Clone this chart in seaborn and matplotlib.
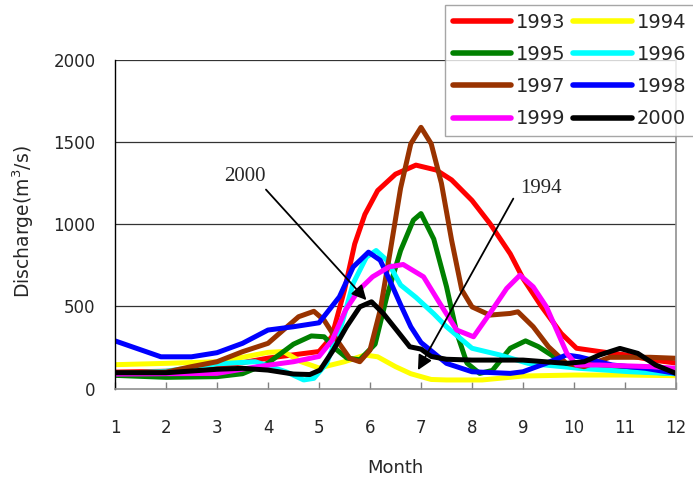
import matplotlib
matplotlib.use("Agg")
import matplotlib.pyplot as plt
from matplotlib.lines import Line2D
import seaborn as sns
import pandas as pd

# ---------------- data ----------------
years = ["1993", "1994", "1995", "1996", "1997", "1998", "1999", "2000"]
colors = ["#FF0000", "#FFFF00", "#008000", "#00FFFF", "#993300", "#0000FF", "#FF00FF", "#000000"]

m1993 = [1, 2, 3, 4, 4.5, 5, 5.25, 5.5, 5.7, 5.9, 6.15, 6.5, 6.9, 7.3, 7.6, 8.0, 8.35, 8.75, 9.0, 9.35, 9.75, 10.05, 10.5, 11, 11.5, 12]
v1993 = [100, 105, 130, 185, 205, 225, 315, 600, 880, 1060, 1205, 1305, 1360, 1330, 1270, 1145, 1005, 820, 670, 505, 335, 245, 225, 205, 175, 155]

m1994 = [1, 2, 3, 3.5, 4, 4.3, 4.65, 5, 5.5, 5.9, 6.15, 6.5, 6.8, 7.2, 7.5, 8.2, 9, 10, 11, 12]
v1994 = [145, 153, 163, 190, 220, 225, 163, 125, 163, 204, 193, 133, 90, 55, 52, 52, 76, 82, 82, 78]

m1995 = [1, 2, 3, 3.5, 4, 4.5, 4.85, 5.1, 5.35, 5.55, 5.8, 6.1, 6.33, 6.6, 6.85, 7.0, 7.25, 7.5, 7.7, 7.9, 8.15, 8.4, 8.75, 9.05, 9.3, 9.6, 9.85, 10.1, 11, 12]
v1995 = [80, 68, 72, 90, 155, 270, 320, 315, 235, 185, 175, 270, 560, 840, 1025, 1065, 910, 620, 340, 155, 92, 110, 245, 290, 255, 195, 145, 130, 110, 90]

m1996 = [1, 2, 3, 3.75, 4.35, 4.7, 4.9, 5.15, 5.45, 5.67, 5.93, 6.12, 6.33, 6.6, 6.9, 7.25, 7.5, 8.0, 8.55, 9.1, 10.1, 11.1, 12]
v1996 = [90, 105, 150, 163, 102, 52, 62, 153, 396, 640, 800, 840, 781, 630, 555, 455, 376, 245, 204, 153, 123, 102, 90]

m1997 = [1, 2, 2.5, 3, 3.5, 4, 4.3, 4.6, 4.9, 5.1, 5.35, 5.6, 5.8, 6.0, 6.2, 6.4, 6.6, 6.8, 7.0, 7.2, 7.4, 7.6, 7.8, 8.0, 8.35, 8.75, 8.9, 9.2, 9.5, 9.85, 10.2, 10.7, 11.5, 12]
v1997 = [95, 100, 133, 163, 224, 275, 356, 437, 470, 416, 295, 184, 163, 234, 477, 842, 1220, 1490, 1590, 1490, 1250, 903, 600, 497, 447, 457, 467, 376, 254, 153, 133, 190, 190, 184]

m1998 = [1, 1.9, 2.5, 3, 3.5, 4, 4.5, 5, 5.4, 5.67, 5.97, 6.2, 6.4, 6.6, 6.8, 7.0, 7.5, 8.0, 8.75, 9.0, 9.45, 9.85, 10.1, 10.75, 11.4, 12]
v1998 = [290, 193, 193, 218, 275, 356, 376, 400, 558, 740, 830, 781, 650, 510, 376, 280, 153, 102, 92, 102, 153, 204, 193, 143, 123, 92]

m1999 = [1, 2, 3, 3.8, 4.5, 5.0, 5.26, 5.52, 5.78, 6.05, 6.37, 6.65, 7.05, 7.37, 7.7, 8.03, 8.35, 8.68, 8.94, 9.2, 9.46, 9.66, 9.86, 10.05, 10.5, 11.5, 12]
v1999 = [88, 90, 92, 133, 163, 195, 295, 477, 599, 680, 740, 755, 680, 518, 356, 315, 457, 609, 690, 619, 497, 356, 214, 143, 143, 133, 123]

m2000 = [1, 2, 3, 3.5, 4, 4.5, 4.82, 5.02, 5.28, 5.54, 5.8, 6.03, 6.26, 6.52, 6.78, 7.0, 7.2, 7.5, 8, 9, 9.85, 10.2, 10.5, 10.9, 11.25, 11.6, 12]
v2000 = [96, 96, 117, 123, 112, 88, 85, 112, 234, 376, 497, 528, 457, 356, 254, 240, 195, 178, 173, 173, 153, 163, 204, 244, 214, 143, 92]

month_ticks = list(range(1, 13))
y_ticks = [0, 500, 1000, 1500, 2000]

# annotations: (label, text position, arrow start, arrow tip)
ann_labels = ["2000", "1994"]
ann_text_xy = [(3.55, 1290), (9.35, 1215)]
ann_start_xy = [(3.96, 1211), (8.81, 1156)]
ann_tip_xy = [(5.93, 538), (6.94, 112)]

# ---------------- build table ----------------
series_m = [m1993, m1994, m1995, m1996, m1997, m1998, m1999, m2000]
series_v = [v1993, v1994, v1995, v1996, v1997, v1998, v1999, v2000]
frames = []
for y, ms, vs in zip(years, series_m, series_v):
    frames.append(pd.DataFrame({"Month": ms, "Discharge": vs, "Year": y}))
df = pd.concat(frames, ignore_index=True)

# ---------------- plot ----------------
sns.set_style("white")
plt.rcParams["font.family"] = ["DejaVu Sans"]

fig = plt.figure(figsize=(6.93, 4.86), dpi=100)
ax = fig.add_axes([115 / 693, 1 - 388.5 / 486, (676 - 115) / 693, (388.5 - 60) / 486])

sns.lineplot(data=df, x="Month", y="Discharge", hue="Year", hue_order=years,
             palette=dict(zip(years, colors)), estimator=None, sort=True,
             linewidth=3.6, ax=ax, legend=False,
             solid_joinstyle="round", solid_capstyle="round")

ax.set_xlim(1, 12)
ax.set_ylim(0, 2000)
ax.set_xticks(month_ticks)
ax.set_xticklabels([str(t) for t in month_ticks])
ax.set_yticks(y_ticks)
ax.set_yticklabels([str(t) for t in y_ticks])
ax.tick_params(axis="x", direction="in", length=5, width=1, color="#808080",
               pad=22, labelsize=12, bottom=True)
ax.tick_params(axis="y", length=0, pad=14, labelsize=12)

for yv in [500, 1000, 1500, 2000]:
    ax.axhline(yv, color="#333333", lw=0.9, zorder=0.5)

ax.spines["left"].set_color("black")
ax.spines["left"].set_linewidth(1.0)
for side in ["bottom", "right"]:
    ax.spines[side].set_color("#909090")
    ax.spines[side].set_linewidth(1.2)
ax.spines["top"].set_visible(False)

ax.set_xlabel("")
ax.set_ylabel("")
fig.text(395 / 693, 1 - 468 / 486, "Month", ha="center", va="center", fontsize=13)
fig.text(23 / 693, 1 - 222 / 486, "Discharge(m$^3$/s)", ha="center", va="center",
         rotation=90, fontsize=13.5)

for lab, txy, sxy, pxy in zip(ann_labels, ann_text_xy, ann_start_xy, ann_tip_xy):
    ax.text(txy[0], txy[1], lab, ha="center", va="center", fontsize=15,
            family="Liberation Serif", zorder=6)
    ax.annotate("", xy=pxy, xytext=sxy,
                arrowprops=dict(arrowstyle="-|>", color="black", lw=1.3,
                                mutation_scale=22, shrinkA=0, shrinkB=0),
                zorder=6)

# legend filled row-wise like the reference: reorder for column-major filling
order = [0, 2, 4, 6, 1, 3, 5, 7]
handles = [Line2D([0], [0], color=colors[i], lw=4, solid_capstyle="round") for i in order]
labels = [years[i] for i in order]
leg = fig.legend(handles, labels, loc="upper left",
                 bbox_to_anchor=(445 / 693, 1 - 5 / 486), ncol=2,
                 fontsize=14, frameon=True, fancybox=False, edgecolor="#909090",
                 handlelength=3.0, handletextpad=0.25, columnspacing=0.4,
                 labelspacing=0.68, borderpad=0.4, borderaxespad=0)
leg.get_frame().set_linewidth(1.0)
leg.set_zorder(10)

fig.savefig("out.png", dpi=100)
